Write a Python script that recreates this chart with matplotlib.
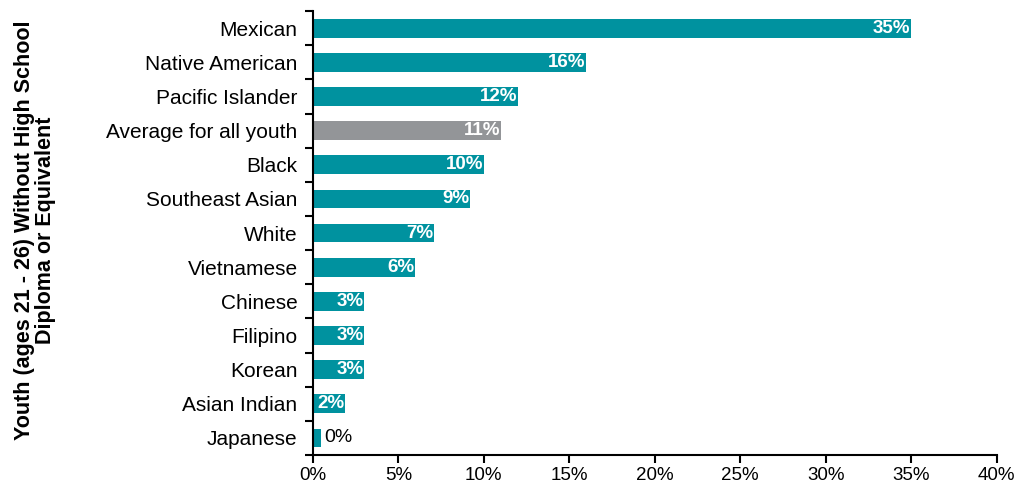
import matplotlib
matplotlib.use("Agg")
import matplotlib.pyplot as plt
import numpy as np

plt.rcParams['font.family'] = ['Liberation Sans', 'DejaVu Sans']

# share of youth aged 21-26 without a high school diploma, by group
groups = ['Mexican', 'Native American', 'Pacific Islander', 'Average for all youth',
          'Black', 'Southeast Asian', 'White', 'Vietnamese', 'Chinese', 'Filipino',
          'Korean', 'Asian Indian', 'Japanese']
pct = [35, 16, 12, 11, 10, 9.2, 7.1, 6, 3, 3, 3, 1.9, 0.5]
bar_colors = ['#00929f'] * 3 + ['#939598'] + ['#00929f'] * 9

fig = plt.figure(figsize=(10.19, 4.83), dpi=100)
ax = fig.add_axes([0.307, 0.058, 0.671, 0.919])

y = np.arange(len(groups))
bars = ax.barh(y, pct, height=0.55, color=bar_colors)
ax.set_ylim(len(groups) - 0.55, -0.45)
ax.set_xlim(0, 40)

for yi, v in zip(y, pct):
    txt = f'{v:.0f}%'
    if v >= 1.5:
        ax.text(v - 0.05, yi, txt, ha='right', va='center', color='white',
                fontweight='bold', fontsize=13.5)
    else:
        ax.text(v + 0.15, yi, txt, ha='left', va='center', color='black', fontsize=14)

# category labels, ticks sit between the bars
ax.set_yticks(y)
ax.set_yticklabels(groups, fontsize=15)
ax.tick_params(axis='y', length=0, pad=11)
ax.set_yticks(np.arange(len(groups) + 1) - 0.5, minor=True)
ax.tick_params(axis='y', which='minor', length=6, width=1.5, direction='out')

ax.set_xticks(np.arange(0, 41, 5))
ax.set_xticklabels([f'{t}%' for t in range(0, 41, 5)], fontsize=13.5)
ax.tick_params(axis='x', length=6, width=1.5, direction='out', pad=3)

for side in ['top', 'right']:
    ax.spines[side].set_visible(False)
for side in ['left', 'bottom']:
    ax.spines[side].set_linewidth(1.5)

fig.text(0.034, 0.524, 'Youth (ages 21 - 26) Without High School\nDiploma or Equivalent',
         rotation=90, ha='center', va='center', fontsize=15.5, fontweight='bold',
         multialignment='center', linespacing=1.0)

fig.savefig('out.png', dpi=100)
